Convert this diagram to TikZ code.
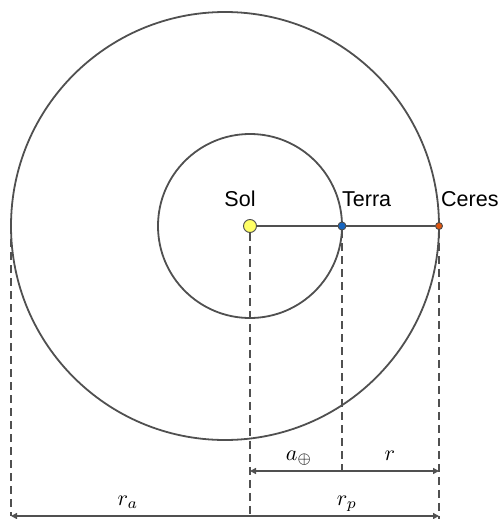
\documentclass[tikz,border=0pt]{standalone}
\usepackage{fontspec}
\setmainfont{Liberation Sans}
\usetikzlibrary{arrows.meta}
\definecolor{lg}{HTML}{505050}
\definecolor{sunyellow}{HTML}{FFFF66}
\definecolor{terrablue}{HTML}{1565C0}
\definecolor{ceresorange}{HTML}{E0560F}
\newcommand{\orbmath}[1]{\scalebox{2.2}{$#1$}}
\begin{document}
\begin{tikzpicture}[x=1pt,y=-1pt,
  orbit/.style={draw=lg, line width=1.8pt},
  guide/.style={draw=lg, line width=1.6pt, dash pattern=on 8pt off 5pt},
  dim/.style={draw=lg, line width=1.9pt, {Triangle[length=6pt,width=6pt]}-{Triangle[length=6pt,width=6pt]}},
  body/.style={circle, draw=black!70, line width=0.9pt, inner sep=0pt},
  lbl/.style={font=\fontsize{21.5}{25}\selectfont, inner sep=0pt, anchor=base west},
  mlbl/.style={font=\fontsize{10}{12}\selectfont, inner sep=0pt, anchor=base}]
\useasboundingbox (0,0) rectangle (503,519);
\draw[orbit] (225,226) circle (214);
\draw[orbit] (250,226) circle (92);
\node[body, fill=sunyellow, minimum size=13pt] (sun) at (250,226) {};
\node[body, fill=terrablue, minimum size=8pt] (terra) at (342,226) {};
\node[body, fill=ceresorange, minimum size=7pt] (ceres) at (439,226) {};
\draw[orbit] (sun) -- (terra) -- (ceres);
\coordinate (aph) at (11,226);
\coordinate (d1l) at (250,471);
\coordinate (d1r) at (439,471);
\coordinate (d2l) at (11,516);
\coordinate (d2r) at (439,516);
\coordinate (sunfoot) at (250,519);
\coordinate (terrafoot) at (342,474);
\coordinate (ceresfoot) at (439,519);
\draw[guide] (aph) -- (d2l);
\draw[guide] (sun) -- (sunfoot);
\draw[guide] (terra) -- (terrafoot);
\draw[guide] (ceres) -- (ceresfoot);
\draw[dim] (d1l) -- (d1r);
\draw[dim] (d2l) -- (d2r);
\node[lbl, anchor=base] (soltxt) at (240,206) {Sol};
\node[lbl] (terratxt) at (342,206) {Terra};
\node[lbl] (cerestxt) at (441,206) {Ceres};
\node[mlbl] (aearth) at (299,460) {\orbmath{a_{\oplus}}};
\node[mlbl] (rr) at (390,460) {\orbmath{r}};
\node[mlbl] (ra) at (128,505) {\orbmath{r_a}};
\node[mlbl] (rp) at (347,505) {\orbmath{r_p}};
\end{tikzpicture}
\end{document}
